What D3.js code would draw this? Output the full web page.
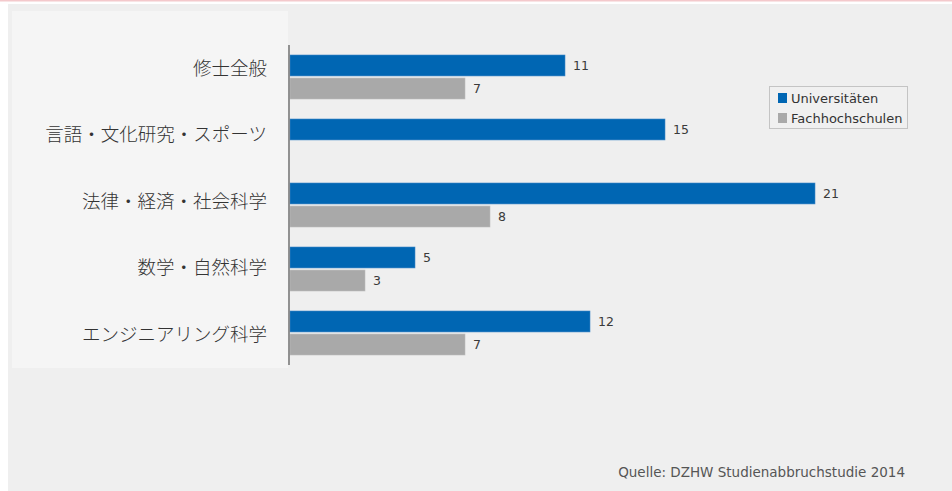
<!DOCTYPE html>
<html>
<head>
<meta charset="utf-8">
<script src="https://cdn.jsdelivr.net/npm/d3@7"></script>
<style>
  body { margin: 0; background: #fff; }
  svg { display: block; }
</style>
</head>
<body>
<svg id="chart" width="952" height="491"></svg>
<script>
// data
var categories = ["修士全般", "言語・文化研究・スポーツ", "法律・経済・社会科学", "数学・自然科学", "エンジニアリング科学"];
var seriesNames = ["Universitäten", "Fachhochschulen"];
var universitaeten = [11, 15, 21, 5, 12];
var fachhochschulen = [7, null, 8, 3, 7];
var colors = ["#0066b3", "#a9a9a9"];
var source = "Quelle: DZHW Studienabbruchstudie 2014";

var svg = d3.select("#chart");

// backgrounds
svg.append("rect").attr("x", 0).attr("y", 0).attr("width", 952).attr("height", 1.5).attr("fill", "#f4c9cc");
svg.append("rect").attr("x", 8).attr("y", 4).attr("width", 944).attr("height", 487).attr("fill", "#efefef");
svg.append("rect").attr("x", 12).attr("y", 11).attr("width", 276).attr("height", 357).attr("fill", "#f5f5f5");

var x = d3.scaleLinear().domain([0, 21]).range([290, 815]);
var y = d3.scaleBand().domain(categories).range([45, 365]).paddingInner(0).paddingOuter(0);
var inner = d3.scaleBand().domain(seriesNames).range([10, 54]).paddingInner(4 / 44);
// labels sit on their own slightly different spacing in the original
var labelY = d3.scalePoint().domain(categories).range([68, 334]);

var rows = categories.map(function (c, i) {
  return { cat: c, values: [universitaeten[i], fachhochschulen[i]] };
});

var groups = svg.selectAll("g.grp")
  .data(rows)
  .enter().append("g")
  .attr("class", "grp")
  .attr("transform", function (d) { return "translate(0," + y(d.cat) + ")"; });

var cells = groups.selectAll("g.cell")
  .data(function (d) {
    return d.values.map(function (v, j) { return { name: seriesNames[j], value: v, j: j }; })
      .filter(function (e) { return e.value != null; });
  })
  .enter().append("g").attr("class", "cell");

cells.append("rect")
  .attr("x", x(0))
  .attr("y", function (d) { return inner(d.name); })
  .attr("width", function (d) { return x(d.value) - x(0); })
  .attr("height", inner.bandwidth())
  .attr("fill", function (d) { return colors[d.j]; })
  .attr("stroke", function (d) { return d.j === 0 ? "#3d86c6" : "#bdbdbd"; })
  .attr("stroke-width", 0.6);

cells.append("text")
  .attr("x", function (d) { return x(d.value) + 8; })
  .attr("y", function (d) { return inner(d.name) + inner.bandwidth() / 2; })
  .attr("dy", "0.35em")
  .attr("font-family", "DejaVu Sans, Verdana, sans-serif")
  .attr("font-size", "12.5px")
  .attr("fill", "#3a3a3a")
  .text(function (d) { return d.value; });

// category labels
svg.selectAll("text.cat")
  .data(categories)
  .enter().append("text")
  .attr("class", "cat")
  .attr("x", 267)
  .attr("y", function (d) { return labelY(d); })
  .attr("dy", "0.36em")
  .attr("text-anchor", "end")
  .attr("font-family", "'Noto Sans CJK JP', sans-serif")
  .attr("font-size", "18.5px")
  .attr("font-weight", 300)
  .attr("fill", "#333")
  .text(function (d) { return d; });

// axis line
svg.append("line")
  .attr("x1", 289).attr("x2", 289)
  .attr("y1", y.range()[0]).attr("y2", y.range()[1])
  .attr("stroke", "#7a7a7a").attr("stroke-width", 1.6);

// legend
var legend = svg.append("g").attr("transform", "translate(769,86)");
legend.append("rect").attr("x", 0.5).attr("y", 0.5).attr("width", 138).attr("height", 42)
  .attr("fill", "#f0f0f0").attr("stroke", "#c4c4c4").attr("stroke-width", 1);
var li = legend.selectAll("g.li").data(seriesNames).enter().append("g")
  .attr("transform", function (d, i) { return "translate(9," + (7 + i * 20) + ")"; });
li.append("rect").attr("width", 9).attr("height", 10)
  .attr("fill", function (d, i) { return colors[i]; });
li.append("text").attr("x", 13).attr("y", 5).attr("dy", "0.36em")
  .attr("font-family", "DejaVu Sans, Verdana, sans-serif")
  .attr("font-size", "13px")
  .attr("fill", "#333")
  .text(function (d) { return d; });

// source
svg.append("text")
  .attr("x", 905).attr("y", 477)
  .attr("text-anchor", "end")
  .attr("font-family", "DejaVu Sans, Verdana, sans-serif")
  .attr("font-size", "13.5px")
  .attr("fill", "#555")
  .text(source);
</script>
</body>
</html>
